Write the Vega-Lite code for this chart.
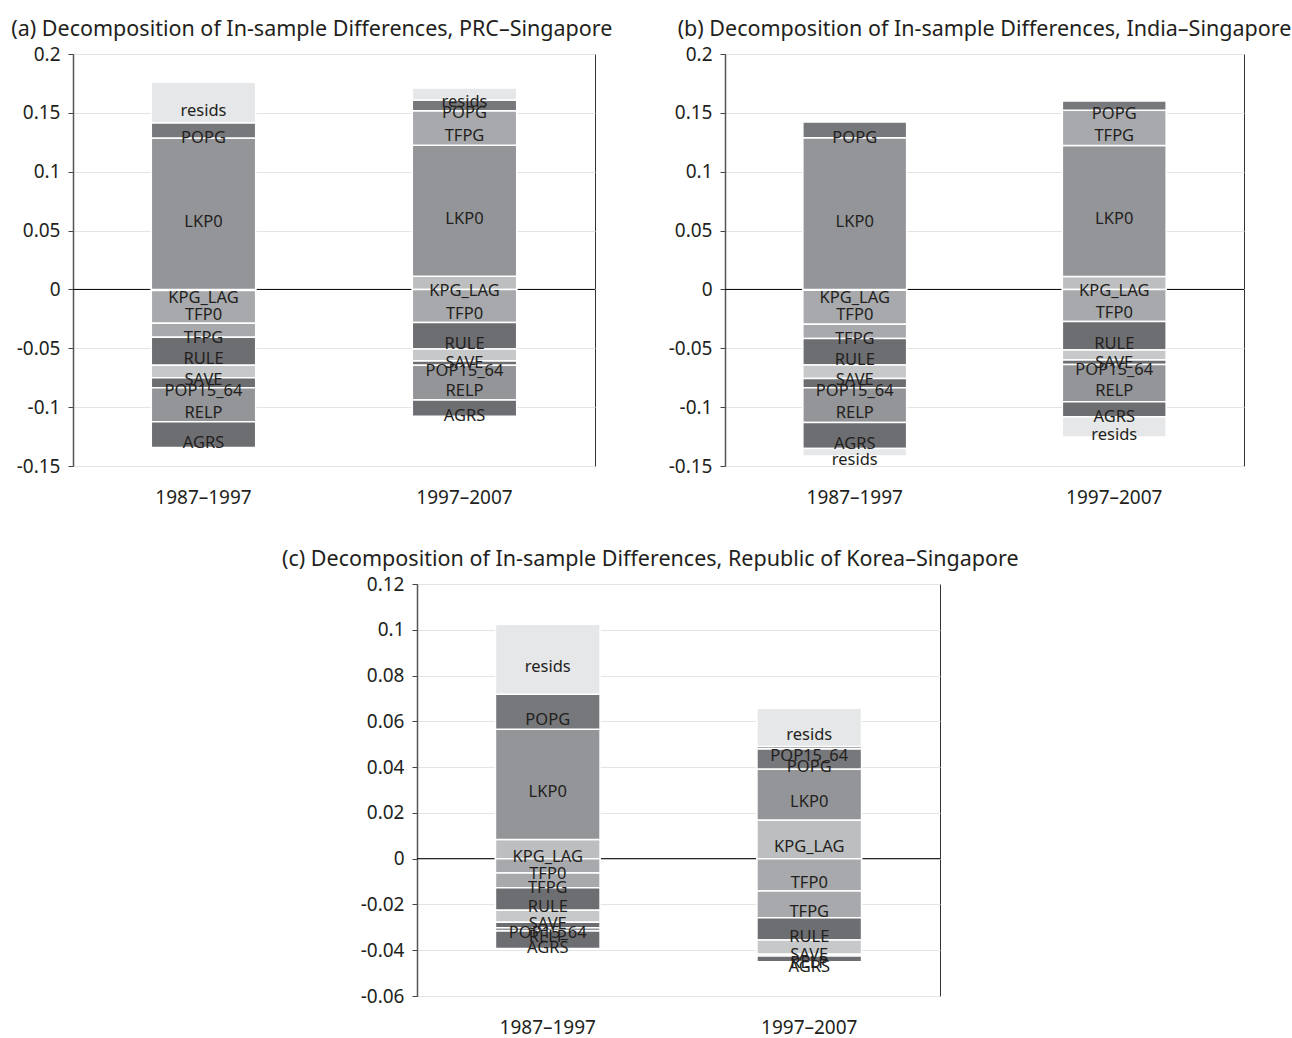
{
  "$schema": "https://vega.github.io/schema/vega-lite/v6.json",
  "padding": {"left": 10, "top": 18, "right": 5, "bottom": 5},
  "background": "white",
  "config": {
    "font": "Noto Sans",
    "view": {"stroke": "#333", "strokeWidth": 1},
    "axis": {"labelColor": "#231f20", "labelFont": "Noto Sans"},
    "title": {"font": "Noto Sans", "fontSize": 21.5, "fontWeight": "normal", "color": "#231f20", "anchor": "middle", "offset": 5}
  },
  "datasets": {
    "d": [
      {"panel": "a", "period": "1987–1997", "factor": "KPG_LAG", "value": -0.001, "ord": 1},
      {"panel": "a", "period": "1987–1997", "factor": "TFP0", "value": -0.0278, "ord": 2},
      {"panel": "a", "period": "1987–1997", "factor": "LKP0", "value": 0.1286, "ord": 3},
      {"panel": "a", "period": "1987–1997", "factor": "TFPG", "value": -0.0119, "ord": 4},
      {"panel": "a", "period": "1987–1997", "factor": "RULE", "value": -0.0238, "ord": 5},
      {"panel": "a", "period": "1987–1997", "factor": "SAVE", "value": -0.0105, "ord": 6},
      {"panel": "a", "period": "1987–1997", "factor": "POPG", "value": 0.013, "ord": 7},
      {"panel": "a", "period": "1987–1997", "factor": "POP15_64", "value": -0.0085, "ord": 8},
      {"panel": "a", "period": "1987–1997", "factor": "RELP", "value": -0.0289, "ord": 9},
      {"panel": "a", "period": "1987–1997", "factor": "AGRS", "value": -0.0218, "ord": 10},
      {"panel": "a", "period": "1987–1997", "factor": "resids", "value": 0.0343, "ord": 11},
      {"panel": "a", "period": "1997–2007", "factor": "KPG_LAG", "value": 0.0111, "ord": 1},
      {"panel": "a", "period": "1997–2007", "factor": "TFP0", "value": -0.028, "ord": 2},
      {"panel": "a", "period": "1997–2007", "factor": "LKP0", "value": 0.1113, "ord": 3},
      {"panel": "a", "period": "1997–2007", "factor": "TFPG", "value": 0.0294, "ord": 4},
      {"panel": "a", "period": "1997–2007", "factor": "RULE", "value": -0.0226, "ord": 5},
      {"panel": "a", "period": "1997–2007", "factor": "SAVE", "value": -0.0102, "ord": 6},
      {"panel": "a", "period": "1997–2007", "factor": "POPG", "value": 0.0091, "ord": 7},
      {"panel": "a", "period": "1997–2007", "factor": "POP15_64", "value": -0.0037, "ord": 8},
      {"panel": "a", "period": "1997–2007", "factor": "RELP", "value": -0.0295, "ord": 9},
      {"panel": "a", "period": "1997–2007", "factor": "AGRS", "value": -0.0138, "ord": 10},
      {"panel": "a", "period": "1997–2007", "factor": "resids", "value": 0.0102, "ord": 11},
      {"panel": "b", "period": "1987–1997", "factor": "KPG_LAG", "value": -0.0006, "ord": 1},
      {"panel": "b", "period": "1987–1997", "factor": "TFP0", "value": -0.029, "ord": 2},
      {"panel": "b", "period": "1987–1997", "factor": "LKP0", "value": 0.1289, "ord": 3},
      {"panel": "b", "period": "1987–1997", "factor": "TFPG", "value": -0.012, "ord": 4},
      {"panel": "b", "period": "1987–1997", "factor": "RULE", "value": -0.0226, "ord": 5},
      {"panel": "b", "period": "1987–1997", "factor": "SAVE", "value": -0.0114, "ord": 6},
      {"panel": "b", "period": "1987–1997", "factor": "POPG", "value": 0.0133, "ord": 7},
      {"panel": "b", "period": "1987–1997", "factor": "POP15_64", "value": -0.0079, "ord": 8},
      {"panel": "b", "period": "1987–1997", "factor": "RELP", "value": -0.0296, "ord": 9},
      {"panel": "b", "period": "1987–1997", "factor": "AGRS", "value": -0.0221, "ord": 10},
      {"panel": "b", "period": "1987–1997", "factor": "resids", "value": -0.0063, "ord": 11},
      {"panel": "b", "period": "1997–2007", "factor": "KPG_LAG", "value": 0.011, "ord": 1},
      {"panel": "b", "period": "1997–2007", "factor": "TFP0", "value": -0.0273, "ord": 2},
      {"panel": "b", "period": "1997–2007", "factor": "LKP0", "value": 0.1113, "ord": 3},
      {"panel": "b", "period": "1997–2007", "factor": "TFPG", "value": 0.03, "ord": 4},
      {"panel": "b", "period": "1997–2007", "factor": "RULE", "value": -0.0242, "ord": 5},
      {"panel": "b", "period": "1997–2007", "factor": "SAVE", "value": -0.0085, "ord": 6},
      {"panel": "b", "period": "1997–2007", "factor": "POPG", "value": 0.0077, "ord": 7},
      {"panel": "b", "period": "1997–2007", "factor": "POP15_64", "value": -0.0037, "ord": 8},
      {"panel": "b", "period": "1997–2007", "factor": "RELP", "value": -0.0318, "ord": 9},
      {"panel": "b", "period": "1997–2007", "factor": "AGRS", "value": -0.0127, "ord": 10},
      {"panel": "b", "period": "1997–2007", "factor": "resids", "value": -0.0171, "ord": 11},
      {"panel": "c", "period": "1987–1997", "factor": "KPG_LAG", "value": 0.0084, "ord": 1},
      {"panel": "c", "period": "1987–1997", "factor": "TFP0", "value": -0.0063, "ord": 2},
      {"panel": "c", "period": "1987–1997", "factor": "LKP0", "value": 0.0481, "ord": 3},
      {"panel": "c", "period": "1987–1997", "factor": "TFPG", "value": -0.0064, "ord": 4},
      {"panel": "c", "period": "1987–1997", "factor": "RULE", "value": -0.0098, "ord": 5},
      {"panel": "c", "period": "1987–1997", "factor": "SAVE", "value": -0.0053, "ord": 6},
      {"panel": "c", "period": "1987–1997", "factor": "POPG", "value": 0.0153, "ord": 7},
      {"panel": "c", "period": "1987–1997", "factor": "POP15_64", "value": -0.0024, "ord": 8},
      {"panel": "c", "period": "1987–1997", "factor": "RELP", "value": -0.0014, "ord": 9},
      {"panel": "c", "period": "1987–1997", "factor": "AGRS", "value": -0.0077, "ord": 10},
      {"panel": "c", "period": "1987–1997", "factor": "resids", "value": 0.0306, "ord": 11},
      {"panel": "c", "period": "1997–2007", "factor": "KPG_LAG", "value": 0.0169, "ord": 1},
      {"panel": "c", "period": "1997–2007", "factor": "TFP0", "value": -0.0141, "ord": 2},
      {"panel": "c", "period": "1997–2007", "factor": "LKP0", "value": 0.0223, "ord": 3},
      {"panel": "c", "period": "1997–2007", "factor": "TFPG", "value": -0.0117, "ord": 4},
      {"panel": "c", "period": "1997–2007", "factor": "RULE", "value": -0.0097, "ord": 5},
      {"panel": "c", "period": "1997–2007", "factor": "SAVE", "value": -0.0063, "ord": 6},
      {"panel": "c", "period": "1997–2007", "factor": "POPG", "value": 0.0088, "ord": 7},
      {"panel": "c", "period": "1997–2007", "factor": "POP15_64", "value": 0.001, "ord": 8},
      {"panel": "c", "period": "1997–2007", "factor": "RELP", "value": -0.0007, "ord": 9},
      {"panel": "c", "period": "1997–2007", "factor": "AGRS", "value": -0.0025, "ord": 10},
      {"panel": "c", "period": "1997–2007", "factor": "resids", "value": 0.0167, "ord": 11}
    ],
    "zero": [{"v": 0}]
  },
  "spacing": 40,
  "vconcat": [
    {
      "bounds": "flush",
      "spacing": 130,
      "hconcat": [
        {
          "width": 522, "height": 412,
          "title": {"text": "(a) Decomposition of In-sample Differences, PRC–Singapore", "frame": "bounds", "dx": 6},
          "data": {"name": "d"},
          "transform": [{"filter": "datum.panel == 'a'"}],
          "layer": [
            {
              "data": {"name": "zero"},
              "mark": {"type": "rule", "color": "black", "strokeWidth": 1},
              "encoding": {"y": {"field": "v", "type": "quantitative"}}
            },
            {
              "mark": {"type": "bar", "stroke": "white", "strokeWidth": 1.5},
              "encoding": {
                "x": {"field": "period", "type": "nominal", "sort": ["1987–1997", "1997–2007"], "scale": {"paddingInner": 0.6, "paddingOuter": 0.3},
                      "axis": {"title": null, "labelAngle": 0, "ticks": false, "domain": false, "labelPadding": 22, "labelFontSize": 19}},
                "y": {"field": "value", "type": "quantitative", "stack": "zero", "scale": {"domain": [-0.15, 0.2], "nice": false, "zero": false},
                      "axis": {"title": null, "values": [-0.15, -0.1, -0.05, 0, 0.05, 0.1, 0.15, 0.2], "labelExpr": "'' + datum.value", "grid": true, "gridColor": "#e4e4e4", "domain": true, "domainColor": "#555", "domainWidth": 1.5, "tickColor": "#444", "tickSize": 5, "labelFontSize": 19, "labelPadding": 8}},
                "color": {"field": "factor", "type": "nominal", "legend": null,
                          "scale": {"domain": ["KPG_LAG", "TFP0", "LKP0", "TFPG", "RULE", "SAVE", "POPG", "POP15_64", "RELP", "AGRS", "resids"],
                                    "range": ["#bcbec0", "#a7a9ac", "#939598", "#a7a9ac", "#6d6e71", "#c7c8ca", "#77787b", "#6d6e71", "#939598", "#6d6e71", "#e6e7e8"]}},
                "order": {"field": "ord", "type": "quantitative"}
              }
            },
            {
              "mark": {"type": "text", "dy": 8, "fontSize": 16.5, "color": "#231f20", "baseline": "middle"},
              "encoding": {
                "x": {"field": "period", "type": "nominal", "sort": ["1987–1997", "1997–2007"]},
                "y": {"field": "value", "type": "quantitative", "stack": "zero", "bandPosition": 0.5},
                "detail": {"field": "factor", "type": "nominal"},
                "order": {"field": "ord", "type": "quantitative"},
                "text": {"field": "factor", "type": "nominal"}
              }
            }
          ]
        },
        {
          "width": 519, "height": 412,
          "title": {"text": "(b) Decomposition of In-sample Differences, India–Singapore"},
          "data": {"name": "d"},
          "transform": [{"filter": "datum.panel == 'b'"}],
          "layer": [
            {
              "data": {"name": "zero"},
              "mark": {"type": "rule", "color": "black", "strokeWidth": 1},
              "encoding": {"y": {"field": "v", "type": "quantitative"}}
            },
            {
              "mark": {"type": "bar", "stroke": "white", "strokeWidth": 1.5},
              "encoding": {
                "x": {"field": "period", "type": "nominal", "sort": ["1987–1997", "1997–2007"], "scale": {"paddingInner": 0.6, "paddingOuter": 0.3},
                      "axis": {"title": null, "labelAngle": 0, "ticks": false, "domain": false, "labelPadding": 22, "labelFontSize": 19}},
                "y": {"field": "value", "type": "quantitative", "stack": "zero", "scale": {"domain": [-0.15, 0.2], "nice": false, "zero": false},
                      "axis": {"title": null, "values": [-0.15, -0.1, -0.05, 0, 0.05, 0.1, 0.15, 0.2], "labelExpr": "'' + datum.value", "grid": true, "gridColor": "#e4e4e4", "domain": true, "domainColor": "#555", "domainWidth": 1.5, "tickColor": "#444", "tickSize": 5, "labelFontSize": 19, "labelPadding": 8}},
                "color": {"field": "factor", "type": "nominal", "legend": null,
                          "scale": {"domain": ["KPG_LAG", "TFP0", "LKP0", "TFPG", "RULE", "SAVE", "POPG", "POP15_64", "RELP", "AGRS", "resids"],
                                    "range": ["#bcbec0", "#a7a9ac", "#939598", "#a7a9ac", "#6d6e71", "#c7c8ca", "#77787b", "#6d6e71", "#939598", "#6d6e71", "#e6e7e8"]}},
                "order": {"field": "ord", "type": "quantitative"}
              }
            },
            {
              "mark": {"type": "text", "dy": 8, "fontSize": 16.5, "color": "#231f20", "baseline": "middle"},
              "encoding": {
                "x": {"field": "period", "type": "nominal", "sort": ["1987–1997", "1997–2007"]},
                "y": {"field": "value", "type": "quantitative", "stack": "zero", "bandPosition": 0.5},
                "detail": {"field": "factor", "type": "nominal"},
                "order": {"field": "ord", "type": "quantitative"},
                "text": {"field": "factor", "type": "nominal"}
              }
            }
          ]
        }
      ]
    },
    {
      "bounds": "flush",
      "spacing": 0,
      "hconcat": [
        {
          "width": 344, "height": 412,
          "data": {"values": []},
          "mark": {"type": "point", "opacity": 0},
          "encoding": {},
          "view": {"stroke": null}
        },
        {
          "width": 523, "height": 412,
          "title": {"text": "(c) Decomposition of In-sample Differences, Republic of Korea–Singapore", "frame": "bounds"},
          "data": {"name": "d"},
          "transform": [{"filter": "datum.panel == 'c'"}],
          "layer": [
            {
              "data": {"name": "zero"},
              "mark": {"type": "rule", "color": "black", "strokeWidth": 1},
              "encoding": {"y": {"field": "v", "type": "quantitative"}}
            },
            {
              "mark": {"type": "bar", "stroke": "white", "strokeWidth": 1.5},
              "encoding": {
                "x": {"field": "period", "type": "nominal", "sort": ["1987–1997", "1997–2007"], "scale": {"paddingInner": 0.6, "paddingOuter": 0.3},
                      "axis": {"title": null, "labelAngle": 0, "ticks": false, "domain": false, "labelPadding": 22, "labelFontSize": 19}},
                "y": {"field": "value", "type": "quantitative", "stack": "zero", "scale": {"domain": [-0.06, 0.12], "nice": false, "zero": false},
                      "axis": {"title": null, "values": [-0.06, -0.04, -0.02, 0, 0.02, 0.04, 0.06, 0.08, 0.1, 0.12], "labelExpr": "'' + datum.value", "grid": true, "gridColor": "#e4e4e4", "domain": true, "domainColor": "#555", "domainWidth": 1.5, "tickColor": "#444", "tickSize": 5, "labelFontSize": 19, "labelPadding": 8}},
                "color": {"field": "factor", "type": "nominal", "legend": null,
                          "scale": {"domain": ["KPG_LAG", "TFP0", "LKP0", "TFPG", "RULE", "SAVE", "POPG", "POP15_64", "RELP", "AGRS", "resids"],
                                    "range": ["#bcbec0", "#a7a9ac", "#939598", "#a7a9ac", "#6d6e71", "#c7c8ca", "#77787b", "#6d6e71", "#939598", "#6d6e71", "#e6e7e8"]}},
                "order": {"field": "ord", "type": "quantitative"}
              }
            },
            {
              "mark": {"type": "text", "dy": 8, "fontSize": 16.5, "color": "#231f20", "baseline": "middle"},
              "encoding": {
                "x": {"field": "period", "type": "nominal", "sort": ["1987–1997", "1997–2007"]},
                "y": {"field": "value", "type": "quantitative", "stack": "zero", "bandPosition": 0.5},
                "detail": {"field": "factor", "type": "nominal"},
                "order": {"field": "ord", "type": "quantitative"},
                "text": {"field": "factor", "type": "nominal"}
              }
            }
          ]
        }
      ]
    }
  ]
}
